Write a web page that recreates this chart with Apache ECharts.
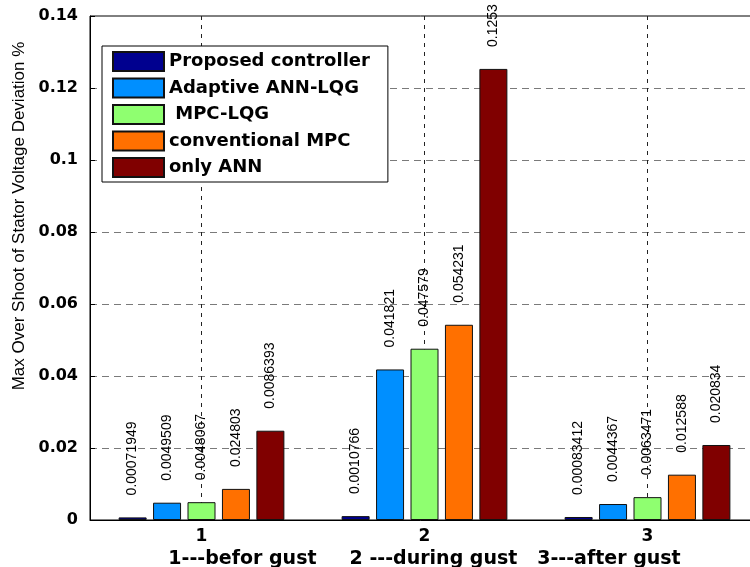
<!DOCTYPE html>
<html>
<head>
<meta charset="utf-8">
<script src="https://cdn.jsdelivr.net/npm/echarts@6/dist/echarts.min.js"></script>
<style>
html,body{margin:0;padding:0;background:#fff;}
#chart{width:750px;height:567px;}
</style>
</head>
<body>
<div id="chart"></div>
<script>
// ---- data ----
const categories = ['1', '2', '3'];
const seriesNames = ['Proposed controller', 'Adaptive ANN-LQG', ' MPC-LQG', 'conventional MPC', 'only ANN'];
const proposed = [0.00071949, 0.0010766, 0.00083412];
const adaptive = [0.0048067, 0.041821, 0.0044367];
const mpcLqg = [0.0049509, 0.047579, 0.0063471];
const convMpc = [0.0086393, 0.054231, 0.012588];
const onlyAnn = [0.024803, 0.1253, 0.020834];
// value labels as printed in the figure
const proposedLbl = ['0.00071949', '0.0010766', '0.00083412'];
const adaptiveLbl = ['0.0049509', '0.041821', '0.0044367'];
const mpcLqgLbl = ['0.0048067', '0.047579', '0.0063471'];
const convMpcLbl = ['0.024803', '0.054231', '0.012588'];
const onlyAnnLbl = ['0.0086393', '0.1253', '0.020834'];
const yTicks = { min: 0, max: 0.14, interval: 0.02 };
const yTitle = 'Max Over Shoot of Stator Voltage Deviation %';
const xTitle = '1---befor gust     2 ---during gust   3---after gust';

const colors = ['#00008F', '#008FFF', '#8FFF70', '#FF7000', '#800000'];
const values = [proposed, adaptive, mpcLqg, convMpc, onlyAnn];
const labels = [proposedLbl, adaptiveLbl, mpcLqgLbl, convMpcLbl, onlyAnnLbl];

const chart = echarts.init(document.getElementById('chart'));
const boldFont = 'DejaVu Sans';

const series = seriesNames.map((name, i) => ({
  name: name,
  type: 'bar',
  data: values[i],
  barWidth: 28,
  barGap: '23%',
  itemStyle: { color: colors[i], borderColor: '#111', borderWidth: 1 },
  label: {
    show: true,
    position: 'top',
    rotate: 90,
    align: 'left',
    verticalAlign: 'middle',
    distance: 22,
    color: '#000',
    fontFamily: 'Liberation Sans',
    fontSize: 14,
    formatter: p => labels[i][p.dataIndex]
  }
}));

chart.setOption({
  animation: false,
  backgroundColor: '#fff',
  grid: { left: 90, width: 669, top: 16, bottom: 47, outerBoundsMode: 'none', containLabel: false, show: true, borderColor: '#000', borderWidth: 1, backgroundColor: 'transparent' },
  legend: {
    orient: 'vertical',
    left: 102,
    top: 46,
    data: seriesNames,
    itemWidth: 51,
    itemHeight: 19,
    itemGap: 5.5,
    padding: [5, 18, 4, 10],
    backgroundColor: '#fff',
    borderColor: '#000',
    borderWidth: 1,
    icon: 'rect',
    textStyle: { fontFamily: boldFont, fontWeight: 'bold', fontSize: 18, color: '#000' }
  },
  xAxis: {
    type: 'category',
    data: categories,
    axisLine: { lineStyle: { color: '#000', width: 1 } },
    axisTick: { show: true, inside: true, alignWithLabel: true, length: 5, lineStyle: { color: '#000' } },
    axisLabel: { margin: 8, fontFamily: boldFont, fontWeight: 'bold', fontSize: 17, color: '#000' },
    splitLine: { show: true, alignWithLabel: true, lineStyle: { color: '#222', type: [4, 5], width: 1 } },
    name: xTitle,
    nameLocation: 'middle',
    nameGap: 23,
    nameTextStyle: { fontFamily: boldFont, fontWeight: 'bold', fontSize: 19, color: '#000' }
  },
  yAxis: {
    type: 'value',
    min: yTicks.min,
    max: yTicks.max,
    interval: yTicks.interval,
    axisLine: { show: true, lineStyle: { color: '#000', width: 1 } },
    axisTick: { show: true, inside: true, length: 5, lineStyle: { color: '#000' } },
    axisLabel: { margin: 12, fontFamily: boldFont, fontWeight: 'bold', fontSize: 16, color: '#000' },
    splitLine: { show: true, showMinLine: false, showMaxLine: false, lineStyle: { color: '#7a7a7a', type: [7, 5], width: 1 } }
  },
  graphic: [{
    type: 'text',
    x: 19,
    y: 216,
    rotation: Math.PI / 2,
    style: {
      text: yTitle,
      align: 'center',
      verticalAlign: 'middle',
      fontFamily: 'Liberation Sans',
      fontSize: 17,
      fill: '#000'
    }
  }],
  series: series
});
</script>
</body>
</html>
